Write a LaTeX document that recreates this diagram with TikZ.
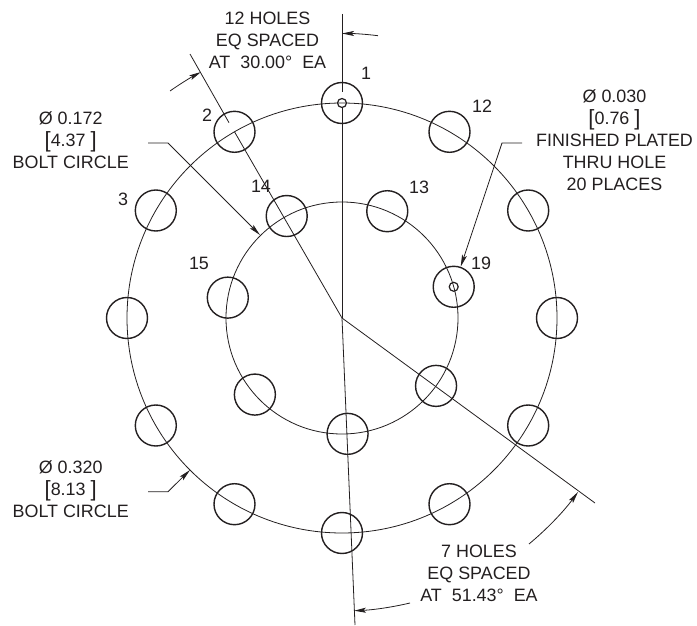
\documentclass[tikz,border=0pt]{standalone}
\usepackage{fontspec}
\setmainfont{Liberation Sans}
\usetikzlibrary{arrows.meta}
\definecolor{ink}{HTML}{231F20}
\newcommand{\brk}[1]{\raisebox{-1.6pt}{\fontsize{22}{22}\selectfont #1}}
\tikzset{
  thinline/.style={draw=ink,line width=0.8pt},
  dimline/.style={thinline,-{Stealth[length=12pt,width=5pt,inset=2.5pt]}},
  holeshape/.style={circle,draw=ink,line width=1.4pt,minimum size=41pt,inner sep=0pt},
  pinhole/.style={circle,draw=ink,line width=1.2pt,minimum size=9pt,inner sep=0pt},
  boltcircle/.style={circle,thinline,inner sep=0pt},
  txt/.style={text=ink,align=center,inner sep=0pt,font=\fontsize{17.9}{22}\selectfont},
}
\begin{document}
\begin{tikzpicture}[x=1pt,y=-1pt]
\useasboundingbox (0,0) rectangle (697,626);
\coordinate (c) at (342,318);
% bolt circles
\node[boltcircle,minimum size=430pt] (outer) at (c) {};
\node[boltcircle,minimum size=232pt] (inner) at (c) {};
% outer holes 1..12
\foreach \k in {1,...,12}{
  \pgfmathsetmacro\hx{342-215*sin((\k-1)*30)}
  \pgfmathsetmacro\hy{318-215*cos((\k-1)*30)}
  \node[holeshape] (h\k) at (\hx,\hy) {};
}
% inner holes 13..19
\foreach \k in {13,...,19}{
  \pgfmathsetmacro\hx{342+116*cos(67.03+(\k-13)*51.43)}
  \pgfmathsetmacro\hy{318-116*sin(67.03+(\k-13)*51.43)}
  \node[holeshape] (h\k) at (\hx,\hy) {};
}
\node[pinhole] (pinA) at (h1.center) {};
\node[pinhole] (pinB) at (h19.center) {};
% centre lines
\coordinate (vtop) at (342,14);
\coordinate (vgap) at (342,92);
\coordinate (sltop) at (190,54);
\coordinate (slgap) at (229,122.7);
\coordinate (botend) at (355,625);
\coordinate (rend) at (595,503);
\draw[thinline] (vtop) -- (vgap);
\draw[thinline] (pinA) -- (c);
\draw[thinline] (sltop) -- (slgap);
\draw[thinline] (h2.center) -- (c);
\draw[thinline] (c) -- (botend);
\draw[thinline] (c) -- (rend);
% angle dimensions
\coordinate (a1s) at (378,35.7);
\coordinate (a1e) at (342,33.5);
\coordinate (a2s) at (170,91);
\coordinate (a2e) at (201,72);
\coordinate (a3s) at (529,544);
\coordinate (a3e) at (578,492);
\coordinate (a4s) at (410,603);
\coordinate (a4e) at (354,610.7);
\draw[dimline] (a1s) to[bend right=3.6,looseness=.85] (a1e);
\draw[dimline] (a2s) to[bend left=3.5,looseness=.85] (a2e);
\draw[dimline] (a3s) to[bend right=7,looseness=.85] (a3e);
\draw[dimline] (a4s) to[bend left=5.5,looseness=.85] (a4e);
% leaders
\coordinate (l1a) at (148,143);
\coordinate (l1b) at (168,143);
\coordinate (l1c) at (260,235);
\coordinate (l2a) at (148,491.7);
\coordinate (l2b) at (168,491.7);
\coordinate (l2c) at (190,470);
\coordinate (l3a) at (522,143);
\coordinate (l3b) at (502,143);
\coordinate (l3c) at (460.7,266.7);
\draw[dimline] (l1a) -- (l1b) -- (l1c);
\draw[dimline] (l2a) -- (l2b) -- (l2c);
\draw[dimline] (l3a) -- (l3b) -- (l3c);
% notes
\node[txt] (n1) at (267.5,40) {12 HOLES\\EQ SPACED\\AT\ \ 30.00°\ \ EA};
\node[txt] (n2) at (614.5,140) {Ø 0.030\\\brk{[}0.76\ \brk{]}\\FINISHED PLATED\\THRU HOLE\\20 PLACES};
\node[txt] (n3) at (70.7,140) {Ø 0.172\\\brk{[}4.37\ \brk{]}\\BOLT CIRCLE};
\node[txt] (n4) at (70.7,489) {Ø 0.320\\\brk{[}8.13\ \brk{]}\\BOLT CIRCLE};
\node[txt] (n5) at (479,573) {7 HOLES\\EQ SPACED\\AT\ \ 51.43°\ \ EA};
% hole numbers
\node[txt] (t1) at (366,73) {1};
\node[txt] (t2) at (207,115) {2};
\node[txt] (t3) at (123,199) {3};
\node[txt] (t12) at (482,106) {12};
\node[txt] (t13) at (419,187) {13};
\node[txt] (t14) at (261,186) {14};
\node[txt] (t15) at (199,263) {15};
\node[txt] (t19) at (481,263) {19};
\end{tikzpicture}
\end{document}
